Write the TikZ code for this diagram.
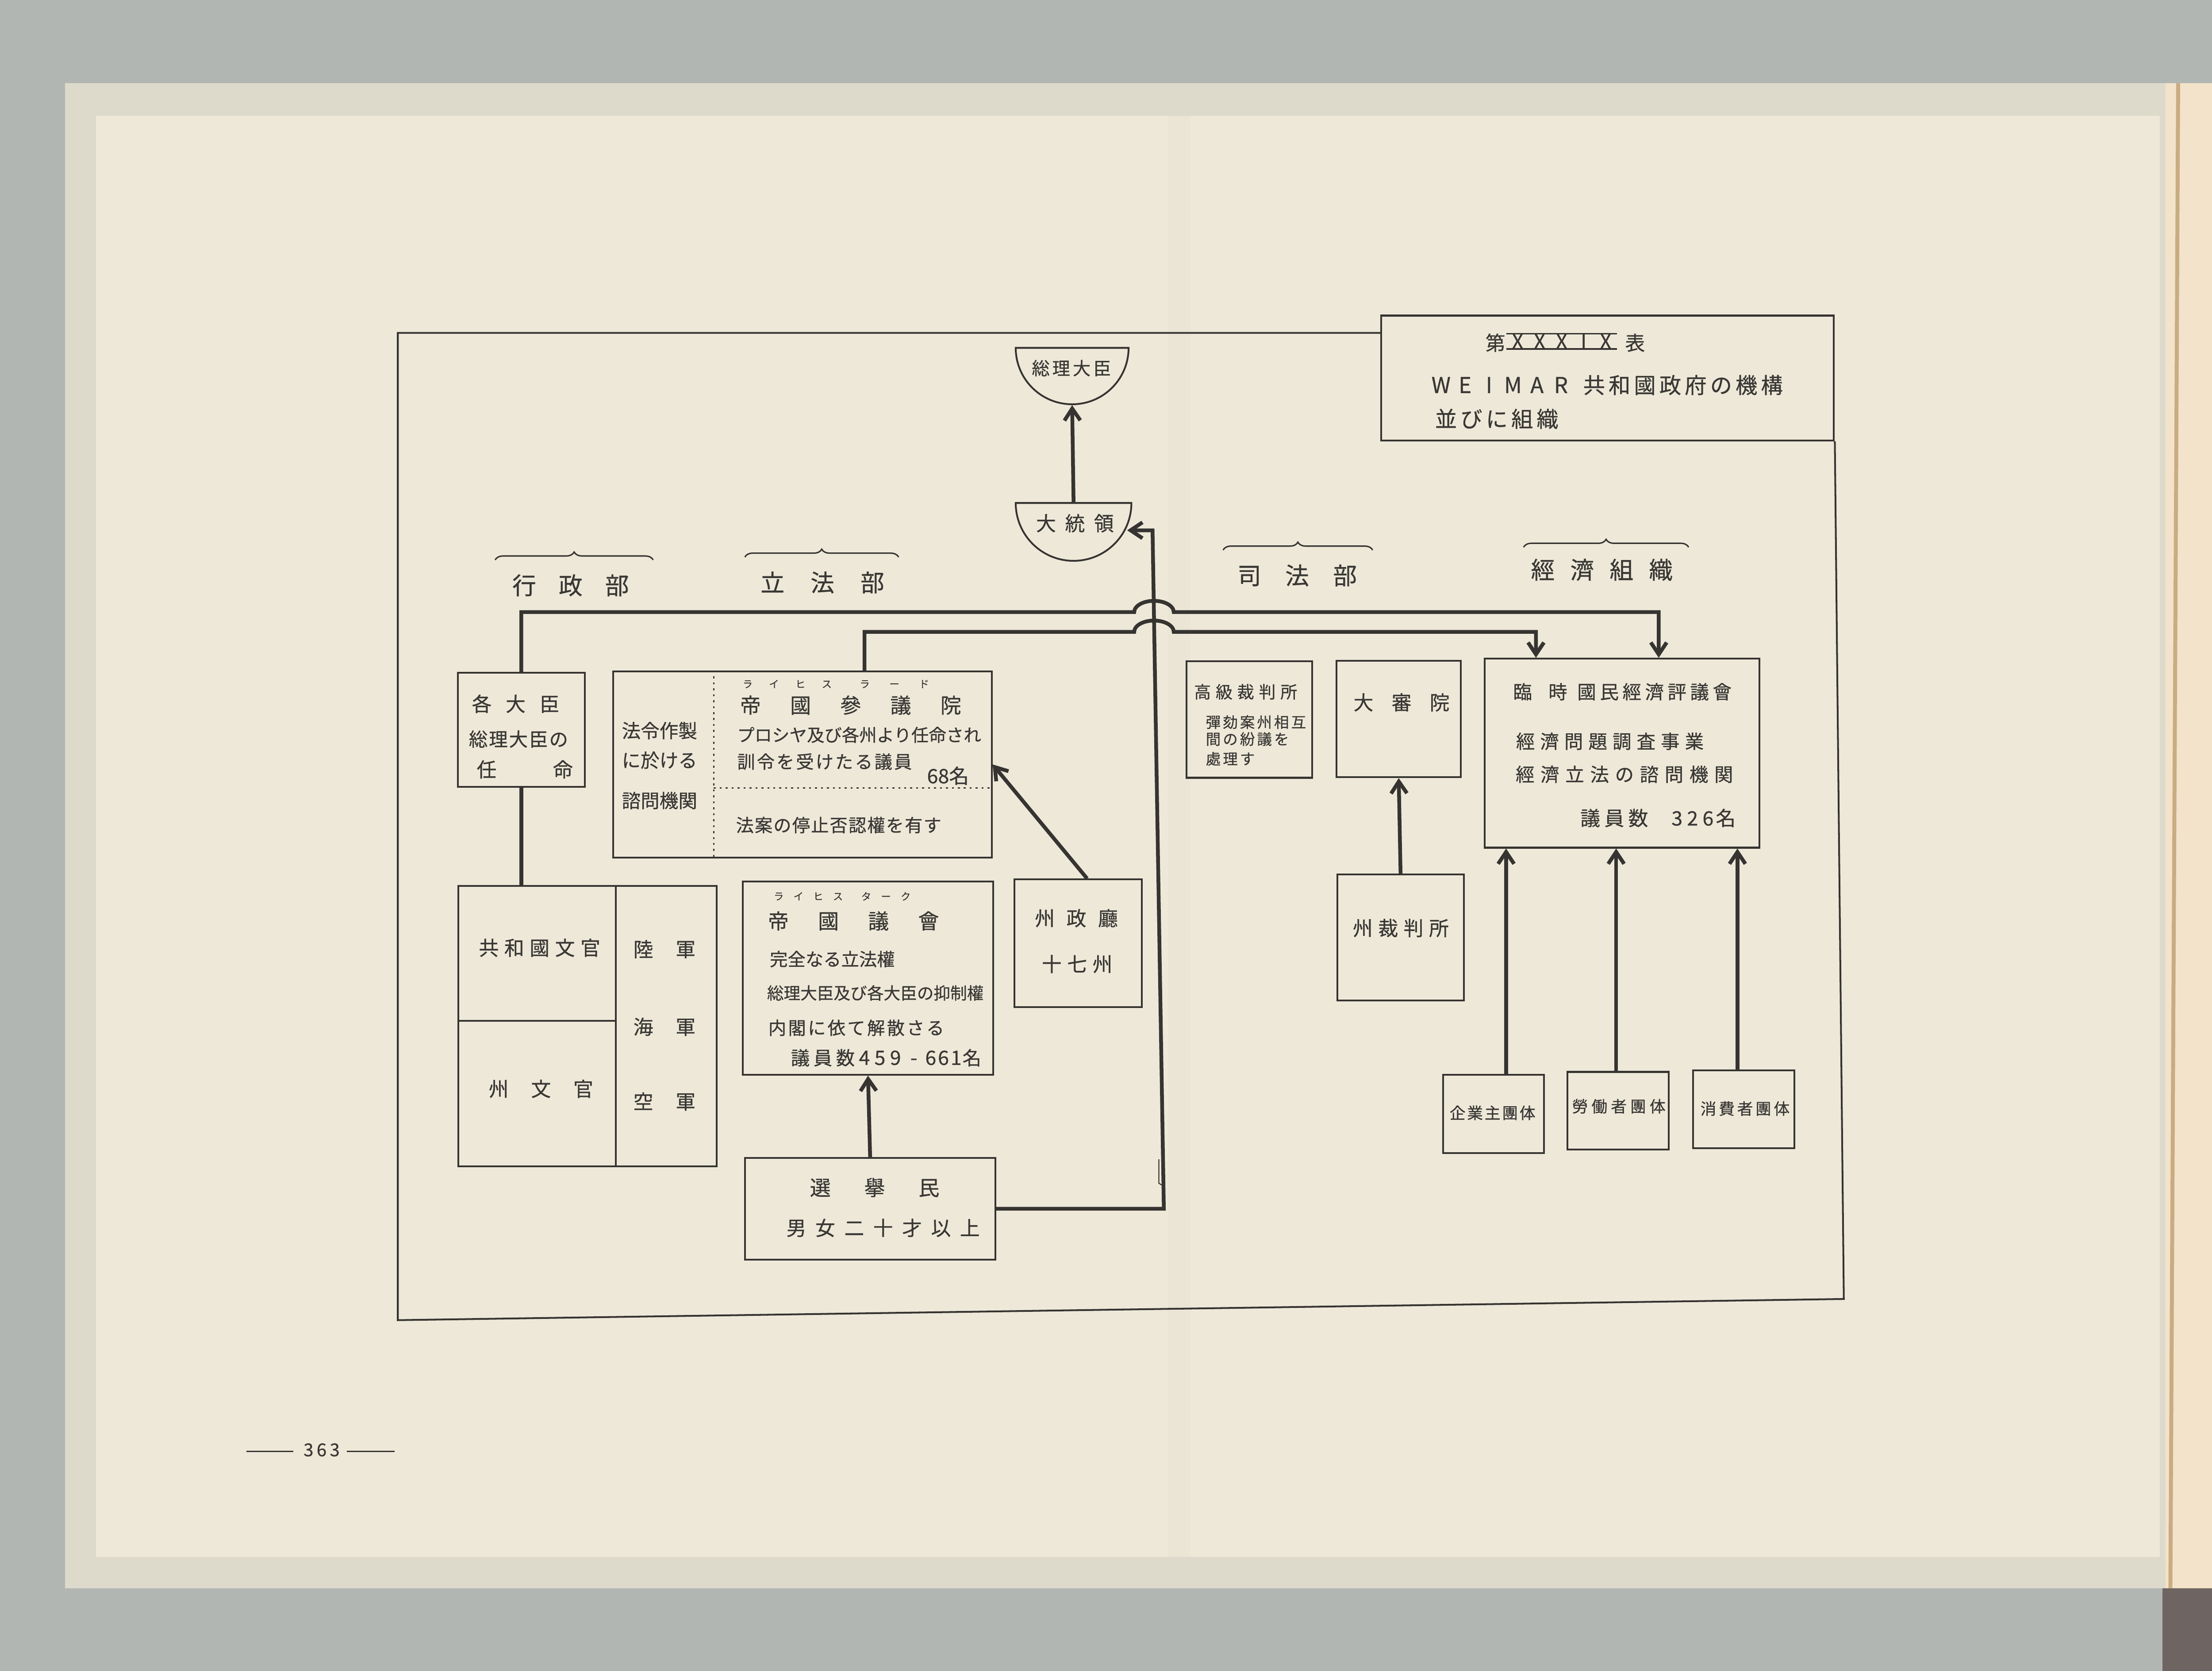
\documentclass[tikz,border=0pt]{standalone}
\usepackage{fontspec}
\newfontfamily\jp{Noto Sans CJK JP}[FakeBold=0.7]
\usetikzlibrary{arrows.meta,shapes.geometric,decorations.pathreplacing}
\definecolor{ink}{HTML}{363431}
\definecolor{inktext}{HTML}{3A3835}
\definecolor{backgray}{HTML}{B2B6B3}
\definecolor{sheetout}{HTML}{DDDACC}
\definecolor{sheetin}{HTML}{EDE8D8}
\definecolor{peach}{HTML}{F2E3CA}
\definecolor{foldline}{HTML}{C9AC82}
\definecolor{darkedge}{HTML}{6E6562}
\newdimen\pxu \pxu=0.025cm
\makeatletter
\newcommand\spr[2]{\@tfor\sprch:=#2\do{\makebox[#1\pxu]{\sprch}}}
\makeatother
\tikzset{
  box/.style 2 args={draw=ink, line width=0.9pt, minimum width=#1*0.025cm, minimum height=#2*0.025cm, inner sep=0pt},
  boxline/.style={draw=ink, line width=0.9pt},
  dotline/.style={draw=ink, line width=0.7pt, dash pattern=on 1pt off 2pt},
  conn/.style={draw=ink, line width=1.9pt},
  arr/.style={-{Straight Barb[length=6pt,width=8pt]}},
  brc/.style={draw=ink, line width=0.7pt, decorate, decoration={brace, amplitude=4pt}},
  outline/.style={draw=ink, line width=0.9pt},
  lbl/.style={font=\jp\fontsize{#1}{#1}\selectfont, text=inktext, inner sep=0pt},
  lbl/.default=9
}
\begin{document}
\begin{tikzpicture}[x=0.025cm,y=-0.025cm]
\useasboundingbox (0,0) rectangle (1568,1184.7);
% paper
\fill[backgray] (0,0) rectangle (1568,1184.7);
\fill[sheetout] (46,59) rectangle (1535,1126);
\fill[sheetin] (68,82) rectangle (1531,1104);
\fill[peach] (1535,59) rectangle (1568,1126);
\draw[foldline, line width=2pt] (1544,59) -- (1538.5,1126);
\fill[darkedge] (1533,1126) rectangle (1568,1184.7);
\fill[black, opacity=0.01] (828,82) rectangle (844,1104);

% title
\node[box={321}{88.5}] (title) at (1139.5,268) {};
\node[lbl=10] (tno) at (1060,243) {第};
\node[lbl=10] (troman) at (1107,242) {\spr{15.6}{XXXIX}};
\node[lbl=10] (thyo) at (1159,243) {表};
\draw[boxline, line width=0.7pt] (troman.north west) -- (troman.north east);
\draw[boxline, line width=0.7pt] (troman.south west) -- (troman.south east);
\node[lbl=11] (tweimar) at (1064,273) {\spr{17}{WEIMAR}};
\node[lbl=11] (tgov) at (1193,273) {\spr{18}{共和國政府の機構}};
\node[lbl=11] (tsub) at (1061,297) {\spr{18}{並びに組織}};

% outer frame
\coordinate (fTL) at (282,236);
\coordinate (fBL) at (282,936);
\coordinate (fBR) at (1307,921);
\draw[outline] (title.west |- fTL) -- (fTL) -- (fBL) -- (fBR) -- (title.south east);

% president and chancellor
\node[semicircle, draw=ink, line width=0.9pt, shape border rotate=180, minimum width=80*0.025cm, inner sep=0pt, anchor=chord center] (pm) at (760,246) {};
\node[lbl=9] (pmtxt) at (759.5,261) {\spr{14.5}{総理大臣}};
\node[semicircle, draw=ink, line width=0.9pt, shape border rotate=180, minimum width=82*0.025cm, inner sep=0pt, anchor=chord center] (pres) at (761,356) {};
\node[lbl=10] (prestxt) at (762,371) {\spr{20.5}{大統領}};
\draw[conn,arr] (pres.chord center) -- (pm.apex);

% section labels
\node[lbl=12] (exec) at (404.5,415) {\spr{32.9}{行政部}};
\draw[brc] (351,397) -- (463,397);
\node[lbl=12] (legis) at (583,413) {\spr{35.4}{立法部}};
\draw[brc] (528,395) -- (637,395);
\node[lbl=12] (judic) at (919.5,408) {\spr{33.9}{司法部}};
\draw[brc] (867,390) -- (973,390);
\node[lbl=12] (econ) at (1135.5,404) {\spr{27.9}{經濟組織}};
\draw[brc] (1080,388) -- (1197,388);

% executive
\node[box={90}{81}] (minis) at (369.5,517.5) {};
\node[lbl=10] (minis1) at (365.5,499) {\spr{24}{各大臣}};
\node[lbl=9.5] (minis2) at (367.5,524) {\spr{14.25}{総理大臣の}};
\node[lbl=10] (minis3) at (372,545.5) {任\hspace{40\pxu}命};
\node[box={183}{199}] (civil) at (416.5,727.5) {};
\draw[boxline] ([xshift=2.8cm]civil.north west) -- ([xshift=2.8cm]civil.south west);
\draw[boxline] ([yshift=-2.41cm]civil.north west) -- ([xshift=2.8cm,yshift=-2.41cm]civil.north west);
\node[lbl=10] (civ1) at (382.5,672) {\spr{18}{共和國文官}};
\node[lbl=10] (civ2) at (383.5,772) {\spr{30}{州文官}};
\node[lbl=10] (army) at (471,673) {\spr{30}{陸軍}};
\node[lbl=10] (navy) at (471,728) {\spr{30}{海軍}};
\node[lbl=10] (airf) at (471,781) {\spr{30}{空軍}};
\draw[conn] (minis.south) -- (minis.south |- civil.north);

% legislative
\node[box={268.4}{132}] (senate) at (568.8,542) {};
\draw[dotline] ([xshift=1.8cm]senate.north west) -- ([xshift=1.8cm]senate.south west);
\draw[dotline] ([xshift=1.8cm,yshift=-2.08cm]senate.north west) -- ([yshift=-2.08cm]senate.north east);
\node[lbl=9.5] (sen1) at (467.5,518) {法令作製};
\node[lbl=9.5] (sen2) at (467.5,539) {に於ける};
\node[lbl=9.5] (sen3) at (467.5,567.6) {諮問機関};
\node[lbl=5] (senr1) at (558,485) {\spr{18.7}{ライヒス}};
\node[lbl=5] (senr2) at (634,485) {\spr{21}{ラード}};
\node[lbl=10.5] (senname) at (603,500) {\spr{35.5}{帝國參議院}};
\node[lbl=8.8] (sen4) at (609,521) {プロシヤ及び各州より任命され};
\node[lbl=9] (sen5) at (584.5,540) {\spr{13.9}{訓令を受けたる議員}};
\node[lbl=10] (sen6) at (672,550) {68名};
\node[lbl=9] (sen7) at (594.5,585) {\spr{13.3}{法案の停止否認權を有す}};

\node[box={177.4}{137}] (diet) at (615.3,693.5) {};
\node[lbl=5] (dietr1) at (573,635.5) {\spr{14}{ライヒス}};
\node[lbl=5] (dietr2) at (628,635.5) {\spr{14}{ターク}};
\node[lbl=10.5] (dietname) at (605,653) {\spr{35.5}{帝國議會}};
\node[lbl=9] (diet1) at (590,680) {完全なる立法權};
\node[lbl=8.4] (diet2) at (620.5,704) {総理大臣及び各大臣の抑制權};
\node[lbl=9] (diet3) at (607,728.7) {\spr{14}{内閣に依て解散さる}};
\node[lbl=9.5, anchor=west] (diet4) at (559,750) {\spr{16}{議員数}{\fontsize{10}{10}\selectfont\spr{11}{459}\spr{15}{-}\spr{9}{661}}名};

\node[box={177.6}{72}] (voters) at (616.8,857) {};
\node[lbl=10.5] (vot1) at (620,842) {\spr{38.5}{選擧民}};
\node[lbl=10] (vot2) at (626,870.6) {\spr{20.5}{男女二十才以上}};
\draw[conn,arr] (voters.north) -- (diet.south);
\coordinate (vc1) at (825,857);
\coordinate (vc2) at (817,376);
\coordinate (presIn) at (799,376);
\draw[conn,arr] (voters.east) -- (vc1) -- (vc2) -- (presIn);
\draw[ink, line width=0.5pt] (821.5,822) -- (821.5,839) -- (825,841);

\node[box={90.5}{90.5}] (stategov) at (764.2,668.8) {};
\node[lbl=10] (sg1) at (763,651) {\spr{22.4}{州政廳}};
\node[lbl=10] (sg2) at (763.5,683.5) {\spr{18}{十七州}};
\coordinate (g1) at ([xshift=0.16cm]stategov.north);
\draw[conn,arr] (g1) -- (senate.east);

% judiciary
\node[box={89}{82.5}] (highcourt) at (885.5,510.2) {};
\node[lbl=8.5] (hc1) at (883,490.5) {\spr{15.3}{高級裁判所}};
\node[lbl=7.5, anchor=west] (hc2) at (853.7,512) {\spr{12.1}{彈劾案州相互}};
\node[lbl=7.5, anchor=west] (hc3) at (853.7,524) {\spr{12.1}{間の紛議を}};
\node[lbl=7.5, anchor=west] (hc4) at (853.7,538) {\spr{12.1}{處理す}};
\node[box={88}{82.5}] (supreme) at (991.5,509.8) {};
\node[lbl=10] (sup1) at (993.5,498) {\spr{27}{大審院}};
\node[box={89.5}{89.5}] (statecourt) at (992.8,664.7) {};
\node[lbl=10] (stc1) at (993,658) {\spr{18}{州裁判所}};
\draw[conn,arr] (statecourt.north) -- (supreme.south);

% economic council
\node[box={194.5}{134}] (ecouncil) at (1149.8,534) {};
\node[lbl=9.5, anchor=west] (ec1) at (1066.5,490.5) {\spr{25}{臨時}\spr{16}{國民經濟評議會}};
\node[lbl=9.5, anchor=west] (ec2) at (1072.5,525.6) {\spr{17.1}{經濟問題調査事業}};
\node[lbl=9.5, anchor=west] (ec3) at (1072,549) {\spr{17.6}{經濟立法の諮問機関}};
\node[lbl=10, anchor=west] (ec4) at (1118.5,580) {\spr{17}{議員数}\hspace{13.5\pxu}\spr{11}{326}名};

\node[box={71.5}{55.6}] (employers) at (1058.8,789.8) {};
\node[box={72}{55}] (workers) at (1147,787.5) {};
\node[box={72}{55}] (consumers) at (1236,786.5) {};
\node[lbl=8] (emp1) at (1058,789) {\spr{12.4}{企業主團体}};
\node[lbl=8] (wor1) at (1147.5,784.4) {\spr{13.75}{勞働者團体}};
\node[lbl=8] (con1) at (1237,786) {\spr{13}{消費者團体}};
\coordinate (a1) at ([xshift=0.22cm]employers.north);
\coordinate (a2) at ([xshift=-0.035cm]workers.north);
\coordinate (a3) at ([xshift=-0.11cm]consumers.north);
\draw[conn,arr] (a1) -- (a1 |- ecouncil.south);
\draw[conn,arr] (a2) -- (a2 |- ecouncil.south);
\draw[conn,arr] (a3) -- (a3 |- ecouncil.south);

% connectors to the council, hopping over the voters' line
\coordinate (s1) at ([xshift=1.1cm]senate.north);
\coordinate (e1) at ([xshift=0.65cm]ecouncil.north);
\coordinate (e2) at ([xshift=-1.525cm]ecouncil.north);
\coordinate (hopU) at (804,434);
\coordinate (hopL) at (804,448);
\draw[conn,arr] (minis.north) |- (hopU) arc[start angle=180, end angle=0, x radius=0.35cm, y radius=0.2cm] -| (e1);
\draw[conn,arr] (s1) |- (hopL) arc[start angle=180, end angle=0, x radius=0.35cm, y radius=0.2cm] -| (e2);

% page number
\node[lbl=9] (pnum) at (228,1028) {\spr{9.3}{363}};
\draw[ink, line width=0.8pt] (pnum.west) ++(-6,1) -- ++(-33,0);
\draw[ink, line width=0.8pt] (pnum.east) ++(3.6,1) -- ++(34,0);
\end{tikzpicture}
\end{document}
